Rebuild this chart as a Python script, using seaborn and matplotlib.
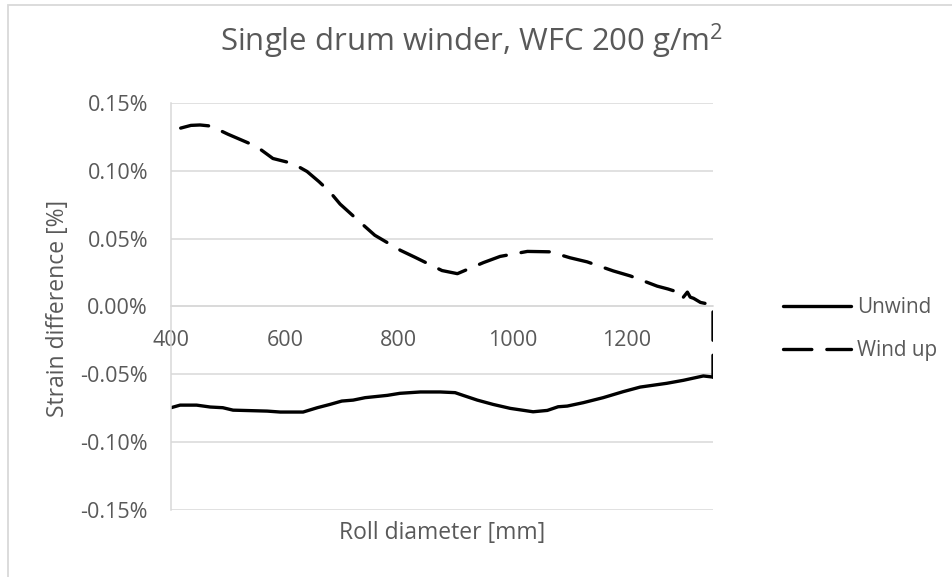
import matplotlib
matplotlib.use("Agg")
import matplotlib.pyplot as plt
import seaborn as sns
import numpy as np
import pandas as pd
from matplotlib.ticker import FuncFormatter, FixedLocator
from matplotlib.patches import Rectangle

# ---- data (strain difference in %) ----
unwind_x = [400, 416, 445, 469, 491, 509, 569, 592, 632, 657, 679, 700, 720, 741,
            780, 802, 838, 873, 899, 913, 938, 966, 996, 1036, 1061, 1080, 1096,
            1124, 1159, 1194, 1224, 1271, 1300, 1335, 1352]
unwind_y = [-0.0746, -0.0727, -0.0727, -0.0741, -0.0746, -0.0764, -0.0771, -0.0778,
            -0.0778, -0.0746, -0.0722, -0.0697, -0.0690, -0.0672, -0.0655, -0.0640,
            -0.0630, -0.0630, -0.0635, -0.0655, -0.0690, -0.0722, -0.0751, -0.0776,
            -0.0766, -0.0739, -0.0734, -0.0709, -0.0672, -0.0628, -0.0594, -0.0566,
            -0.0544, -0.0512, -0.0520]

windup_x = [417, 435, 451, 470, 500, 550, 579, 614, 639, 660, 679, 697, 736, 758,
            803, 829, 876, 903, 949, 978, 1026, 1054, 1066, 1101, 1131, 1177, 1207,
            1254, 1273, 1282, 1291, 1300, 1307, 1312, 1318, 1330, 1345, 1352, 1352]
windup_y = [0.1315, 0.1335, 0.1338, 0.1330, 0.1270, 0.1180, 0.1091, 0.1054, 0.0995,
            0.0920, 0.0845, 0.0755, 0.0607, 0.0525, 0.0414, 0.0362, 0.0265, 0.0242,
            0.0324, 0.0369, 0.0406, 0.0404, 0.0403, 0.0359, 0.0329, 0.0262, 0.0225,
            0.0150, 0.0129, 0.0117, 0.0129, 0.0069, 0.0106, 0.0069, 0.0060, 0.0030,
            0.0017, 0.0010, -0.0520]

x_ticks = [400, 600, 800, 1000, 1200]
y_ticks = [-0.15, -0.10, -0.05, 0.00, 0.05, 0.10, 0.15]

title_text = "Single drum winder, WFC 200 g/m$^2$"
x_label = "Roll diameter [mm]"
y_label = "Strain difference [%]"
series_names = ["Unwind", "Wind up"]

# ---- style ----
sns.set_theme(style="white")
plt.rcParams['font.family'] = ['Open Sans', 'DejaVu Sans']
plt.rcParams['mathtext.fontset'] = 'custom'
plt.rcParams['mathtext.rm'] = 'Open Sans'
plt.rcParams['mathtext.it'] = 'Open Sans'
TXT = "#595959"
GRID = "#d9d9d9"

fig = plt.figure(figsize=(9.52, 5.77), dpi=100)
ax = fig.add_axes([171/952, 1 - 510/577, (713-171)/952, (510-103)/577])

df_u = pd.DataFrame({"x": unwind_x, "y": unwind_y})
df_w = pd.DataFrame({"x": windup_x, "y": windup_y})

sns.lineplot(data=df_u, x="x", y="y", ax=ax, sort=False, estimator=None,
             color="black", linewidth=2.4, label=series_names[0])
sns.lineplot(data=df_w, x="x", y="y", ax=ax, sort=False, estimator=None,
             color="black", linewidth=2.4, label=series_names[1])
lines = ax.get_lines()
lines[0].set_solid_capstyle("round")
lines[0].set_solid_joinstyle("round")
lines[1].set_dashes((8.5, 4.5))
lines[1].set_dash_capstyle("round")
lines[1].set_dash_joinstyle("round")

ax.set_xlim(400, 1352)
ax.set_ylim(-0.15, 0.15)
ax.yaxis.set_major_locator(FixedLocator(y_ticks))
ax.xaxis.set_major_locator(FixedLocator(x_ticks))
ax.yaxis.set_major_formatter(FuncFormatter(lambda v, p: f"{v:.2f}%"))
ax.xaxis.set_major_formatter(FuncFormatter(lambda v, p: f"{int(round(v))}"))

ax.grid(axis="y", color=GRID, linewidth=1.1)
ax.grid(axis="x", visible=False)
ax.set_axisbelow(True)

for s in ["top", "right"]:
    ax.spines[s].set_visible(False)
ax.spines["left"].set_color(GRID)
ax.spines["left"].set_linewidth(1.1)
ax.spines["bottom"].set_position(("data", 0))
ax.spines["bottom"].set_color(GRID)
ax.spines["bottom"].set_linewidth(1.1)

ax.tick_params(axis="both", length=0, labelsize=15.5, colors=TXT)
ax.tick_params(axis="x", pad=17)
ax.tick_params(axis="y", pad=16.5)

ax.set_xlabel("")
ax.set_ylabel(y_label, fontsize=16.5, color=TXT)
ax.yaxis.set_label_coords((70 - 171) / 542, 0.495)
fig.text(442/952, 1 - 533/577, x_label, fontsize=16.5, color=TXT,
         ha="center", va="center")
fig.text(472/952, 1 - 41/577, title_text, fontsize=22.4, color=TXT,
         ha="center", va="center")

leg = ax.legend(loc="center left", bbox_to_anchor=(773/952, 1 - 329/577),
                bbox_transform=fig.transFigure, frameon=False, fontsize=14.9,
                handlelength=3.25, handletextpad=0.3, labelspacing=1.08,
                borderpad=0)
for t in leg.get_texts():
    t.set_color(TXT)

# chart area border (top and left edges visible)
fig.patches.append(Rectangle((8/952, -0.1), 1.2, 1.1 - 5/577,
                             transform=fig.transFigure, fill=False,
                             edgecolor=GRID, linewidth=1.3))

fig.savefig("out.png", dpi=100)
